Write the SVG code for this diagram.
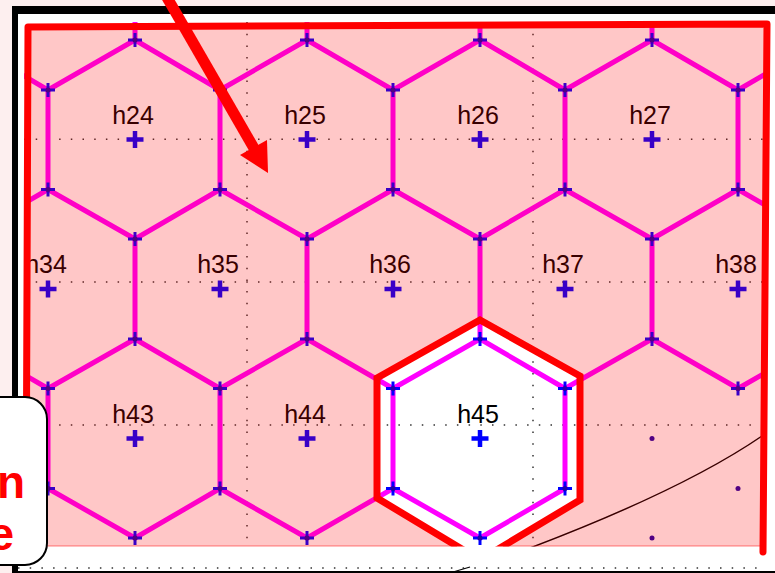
<svg xmlns="http://www.w3.org/2000/svg" xmlns:xlink="http://www.w3.org/1999/xlink" width="775" height="573" viewBox="0 0 775 573">
<style>
.dot{stroke:#333;stroke-width:1.5;stroke-dasharray:1.5 10.2;fill:none}
.hexl{stroke:#ff00ff;stroke-width:5;fill:none;stroke-linejoin:round}
.vp{stroke:#0000ff;stroke-width:3}
.vd{fill:#2000a8}
.cp{stroke:#0000ff;stroke-width:4.5}
.lbl{font-family:"Liberation Sans",Arial,sans-serif;font-size:25px;fill:#000;text-anchor:middle}
.big{font-family:"Liberation Sans",Arial,sans-serif;font-size:46px;font-weight:bold;fill:#ff0000;text-anchor:end}
</style>
<defs>
<clipPath id="gclip"><rect x="24" y="22" width="742" height="524.5"/></clipPath>
<clipPath id="hclip"><rect x="300" y="300" width="320" height="246.5"/></clipPath>
<path id="vplus" d="M-7,0H7M0,-7V7"/>
<path id="cplus" d="M-8.5,0H8.5M0,-8.5V8.5"/>
</defs>
<rect x="0" y="0" width="775" height="573" fill="#fdefef"/>
<rect x="18" y="14" width="757" height="559" fill="#ffffff"/>
<rect x="12" y="6" width="763" height="8" fill="#000"/>
<rect x="12" y="6" width="6" height="567" fill="#000"/>

<g clip-path="url(#gclip)">
  <g id="gridlines">
    <path class="dot" d="M24,139.3H766M24,282H766M24,425H766M247,22V546M533,22V546"/>
  </g>
  <path d="M762,436 C705,475 630,510 530,548" stroke="#000" stroke-width="1.5" fill="none"/>
  <g id="connectors">
    <path class="hexl" d="M135,-60V40M307,-60V40M480,-60V40M652,-60V40
      M-37,40L48,90L135,40L220,90L307,40L393,90L480,40L565,90L652,40L738,90L824,40
      M48,90V189.5M220,90V189.5M393,90V189.5M565,90V189.5M738,90V189.5
      M-37,239L48,189.5L135,239L220,189.5L307,239L393,189.5L480,239L565,189.5L652,239L738,189.5L824,239
      M135,239V339M307,239V339M480,239V339M652,239V339
      M-37,339L48,388.5L135,339L220,388.5L307,339L393,388.5L480,339L565,388.5L652,339L738,388.5L824,339
      M48,388.5V488.5M220,388.5V488.5M393,388.5V488.5M565,388.5V488.5
      M-37,538L48,488.5L135,538L220,488.5L307,538L393,488.5L480,538L565,488.5"/>
  </g>
  <g id="vertex-crosses" class="vp">
    <use xlink:href="#vplus" x="135" y="40"/><use xlink:href="#vplus" x="307" y="40"/><use xlink:href="#vplus" x="480" y="40"/><use xlink:href="#vplus" x="652" y="40"/>
    <use xlink:href="#vplus" x="48" y="90"/><use xlink:href="#vplus" x="220" y="90"/><use xlink:href="#vplus" x="393" y="90"/><use xlink:href="#vplus" x="565" y="90"/><use xlink:href="#vplus" x="738" y="90"/>
    <use xlink:href="#vplus" x="48" y="189.5"/><use xlink:href="#vplus" x="220" y="189.5"/><use xlink:href="#vplus" x="393" y="189.5"/><use xlink:href="#vplus" x="565" y="189.5"/><use xlink:href="#vplus" x="738" y="189.5"/>
    <use xlink:href="#vplus" x="135" y="239"/><use xlink:href="#vplus" x="307" y="239"/><use xlink:href="#vplus" x="480" y="239"/><use xlink:href="#vplus" x="652" y="239"/>
    <use xlink:href="#vplus" x="135" y="339"/><use xlink:href="#vplus" x="307" y="339"/><use xlink:href="#vplus" x="480" y="339"/><use xlink:href="#vplus" x="652" y="339"/>
    <use xlink:href="#vplus" x="48" y="388.5"/><use xlink:href="#vplus" x="220" y="388.5"/><use xlink:href="#vplus" x="393" y="388.5"/><use xlink:href="#vplus" x="565" y="388.5"/><use xlink:href="#vplus" x="738" y="388.5"/>
    <use xlink:href="#vplus" x="48" y="488.5"/><use xlink:href="#vplus" x="220" y="488.5"/><use xlink:href="#vplus" x="393" y="488.5"/><use xlink:href="#vplus" x="565" y="488.5"/>
    <use xlink:href="#vplus" x="135" y="538"/><use xlink:href="#vplus" x="307" y="538"/><use xlink:href="#vplus" x="480" y="538"/>
  </g>
  <g id="vertex-dots" class="vd">
    <circle cx="135" cy="40" r="2.5"/><circle cx="307" cy="40" r="2.5"/><circle cx="480" cy="40" r="2.5"/><circle cx="652" cy="40" r="2.5"/>
    <circle cx="48" cy="90" r="2.5"/><circle cx="220" cy="90" r="2.5"/><circle cx="393" cy="90" r="2.5"/><circle cx="565" cy="90" r="2.5"/><circle cx="738" cy="90" r="2.5"/>
    <circle cx="48" cy="189.5" r="2.5"/><circle cx="220" cy="189.5" r="2.5"/><circle cx="393" cy="189.5" r="2.5"/><circle cx="565" cy="189.5" r="2.5"/><circle cx="738" cy="189.5" r="2.5"/>
    <circle cx="135" cy="239" r="2.5"/><circle cx="307" cy="239" r="2.5"/><circle cx="480" cy="239" r="2.5"/><circle cx="652" cy="239" r="2.5"/>
    <circle cx="135" cy="339" r="2.5"/><circle cx="307" cy="339" r="2.5"/><circle cx="480" cy="339" r="2.5"/><circle cx="652" cy="339" r="2.5"/>
    <circle cx="48" cy="388.5" r="2.5"/><circle cx="220" cy="388.5" r="2.5"/><circle cx="393" cy="388.5" r="2.5"/><circle cx="565" cy="388.5" r="2.5"/><circle cx="738" cy="388.5" r="2.5"/>
    <circle cx="48" cy="488.5" r="2.5"/><circle cx="220" cy="488.5" r="2.5"/><circle cx="393" cy="488.5" r="2.5"/><circle cx="565" cy="488.5" r="2.5"/><circle cx="738" cy="488.5" r="2.5"/>
    <circle cx="135" cy="538" r="2.5"/><circle cx="307" cy="538" r="2.5"/><circle cx="480" cy="538" r="2.5"/><circle cx="652" cy="538" r="2.5"/>
    <circle cx="652" cy="438.5" r="2.5"/>
  </g>
  <g id="h24"><use class="cp" xlink:href="#cplus" x="135" y="139.5"/><text class="lbl" x="133" y="123.5">h24</text></g>
  <g id="h25"><use class="cp" xlink:href="#cplus" x="307" y="139.5"/><text class="lbl" x="305" y="123.5">h25</text></g>
  <g id="h26"><use class="cp" xlink:href="#cplus" x="480" y="139.5"/><text class="lbl" x="478" y="123.5">h26</text></g>
  <g id="h27"><use class="cp" xlink:href="#cplus" x="652" y="139.5"/><text class="lbl" x="650" y="123.5">h27</text></g>
  <g id="h34"><use class="cp" xlink:href="#cplus" x="48" y="289"/><text class="lbl" x="46" y="273">h34</text></g>
  <g id="h35"><use class="cp" xlink:href="#cplus" x="220" y="289"/><text class="lbl" x="218" y="273">h35</text></g>
  <g id="h36"><use class="cp" xlink:href="#cplus" x="393" y="289"/><text class="lbl" x="390" y="273">h36</text></g>
  <g id="h37"><use class="cp" xlink:href="#cplus" x="565" y="289"/><text class="lbl" x="563" y="273">h37</text></g>
  <g id="h38"><use class="cp" xlink:href="#cplus" x="738" y="289"/><text class="lbl" x="736" y="273">h38</text></g>
  <g id="h43"><use class="cp" xlink:href="#cplus" x="135" y="438.5"/><text class="lbl" x="133" y="422.5">h43</text></g>
  <g id="h44"><use class="cp" xlink:href="#cplus" x="307" y="438.5"/><text class="lbl" x="305" y="422.5">h44</text></g>
  <g id="h45"><use class="cp" xlink:href="#cplus" x="480" y="438.5"/><text class="lbl" x="478" y="422.5">h45</text></g>
</g>

<g id="region">
  <path d="M28,27 L767,24 L763,546 L503,546 L580,500 L580,376 L480,320 L377,378 L377,498 L457,546 L26,546 Z" fill="#ff0000" fill-opacity="0.22"/>
  <path d="M26,546H457M503,546H763" stroke="#ff0000" stroke-opacity="0.5" stroke-width="1"/>
  <path d="M26,546 L28,27 L767,24 L763,552" stroke="#ff0000" stroke-width="7" fill="none" stroke-linejoin="round" stroke-linecap="round"/>
  <polygon points="480,320 580,376 580,500 480,560 377,498 377,378" fill="none" stroke="#ff0000" stroke-width="7" stroke-linejoin="miter" clip-path="url(#hclip)"/>
</g>

<path class="dot" d="M18,568H760"/>
<rect x="18" y="571" width="757" height="2" fill="#000"/>
<path d="M453,572 L470,567" stroke="#000" stroke-width="1.3"/>

<g id="callout">
  <rect x="-30" y="397" width="77" height="168" rx="22" fill="#fff" stroke="#000" stroke-width="2"/>
  <text class="big" x="25" y="498">n</text>
  <text class="big" x="14" y="550">e</text>
</g>

<g id="arrow">
  <line x1="165" y1="-6" x2="255" y2="150" stroke="#ff0000" stroke-width="11"/>
  <polygon points="268,173 240,155 267,140" fill="#ff0000"/>
</g>
</svg>
